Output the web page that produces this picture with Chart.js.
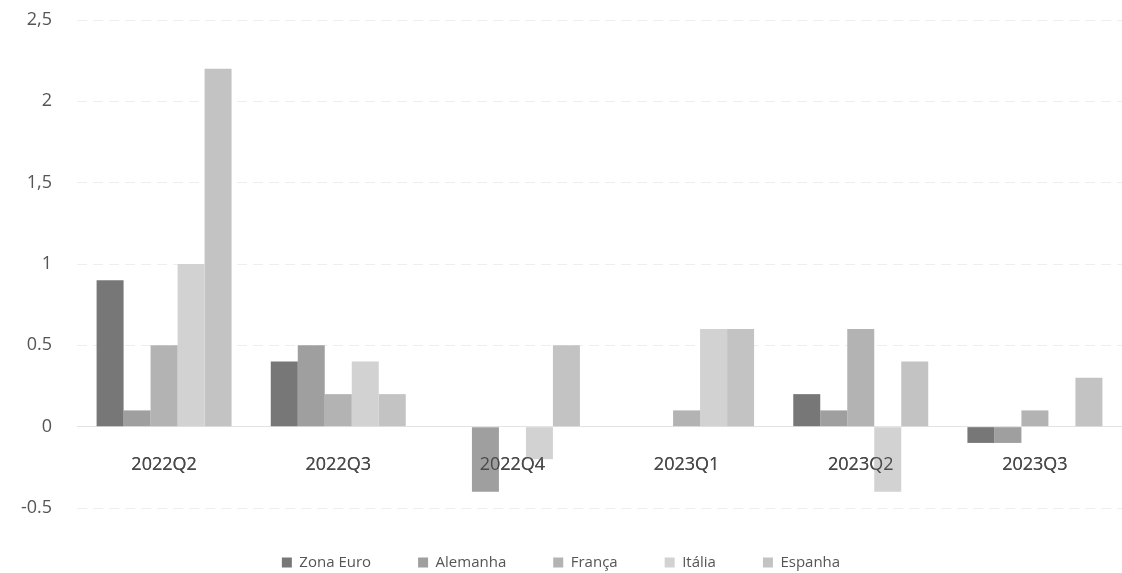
<!DOCTYPE html>
<html>
<head>
<meta charset="utf-8">
<script src="https://cdn.jsdelivr.net/npm/chart.js@4/dist/chart.umd.min.js"></script>
<style>
  html, body { margin: 0; padding: 0; background: #fff; }
  #wrap { width: 1122px; height: 573px; }
</style>
</head>
<body>
<div id="wrap"><canvas id="gdpChart"></canvas></div>
<script>
// Quarters on the x axis
const quarters = ['2022Q2', '2022Q3', '2022Q4', '2023Q1', '2023Q2', '2023Q3'];

// Quarterly growth per country (%)
const zonaEuro = [0.9, 0.4, 0, 0, 0.2, -0.1];
const alemanha = [0.1, 0.5, -0.4, 0, 0.1, -0.1];
const franca = [0.5, 0.2, 0, 0.1, 0.6, 0.1];
const italia = [1.0, 0.4, -0.2, 0.6, -0.4, 0];
const espanha = [2.2, 0.2, 0.5, 0.6, 0.4, 0.3];

// Y tick labels as printed in the original (mixed separators)
const tickValues = [-0.5, 0, 0.5, 1, 1.5, 2, 2.5];
const tickLabels = ['-0.5', '0', '0.5', '1', '1,5', '2', '2,5'];

const seriesNames = ['Zona Euro', 'Alemanha', 'França', 'Itália', 'Espanha'];
const seriesColors = ['#777777', '#9f9f9f', '#b3b3b3', '#d2d2d2', '#c3c3c3'];
const seriesData = [zonaEuro, alemanha, franca, italia, espanha];

const font = "'Open Sans', 'Noto Sans', sans-serif";

// quarter labels sit on top of the bars, as in the original
const labelsOnTop = {
    id: 'labelsOnTop',
    afterDatasetsDraw(chart) {
        chart.scales.x.drawLabels(chart.chartArea);
    }
};

const chartData = {
    labels: quarters,
    datasets: seriesNames.map((name, i) => ({
        label: name,
        data: seriesData[i],
        backgroundColor: seriesColors[i],
        borderWidth: 0,
        categoryPercentage: 0.775,
        barPercentage: 1.0
    }))
};

const chartConfig = {
    type: 'bar',
    data: chartData,
    plugins: [labelsOnTop],
    options: {
        responsive: true,
        maintainAspectRatio: false,
        animation: false,
        layout: { padding: { top: 20, right: 0, left: 0, bottom: -7 } },
        plugins: {
            tooltip: { enabled: false },
            legend: {
                position: 'bottom',
                labels: {
                    boxWidth: 10,
                    boxHeight: 10,
                    padding: 47,
                    color: '#555',
                    font: { size: 15, family: font }
                }
            }
        },
        scales: {
            x: {
                position: { y: 0 },
                grid: { display: false, drawTicks: false },
                border: { display: true, color: '#e3e3e3', width: 1 },
                ticks: {
                    padding: 27,
                    maxRotation: 0,
                    color: '#4a4a4a',
                    font: { size: 18, family: font }
                }
            },
            y: {
                min: -0.5,
                max: 2.5,
                afterFit: (scale) => { scale.width = 77; },
                afterBuildTicks: (scale) => {
                    scale.ticks = tickValues.map(v => ({ value: v }));
                },
                grid: {
                    color: (ctx) => ctx.tick && ctx.tick.value === 0 ? 'rgba(0,0,0,0)' : '#eeeeee',
                    drawTicks: true,
                    tickLength: 25,
                    tickColor: 'rgba(0,0,0,0)'
                },
                border: { display: false, dash: [10, 6] },
                ticks: {
                    padding: 0,
                    color: '#555',
                    font: { size: 18, family: font },
                    callback: (value) => {
                        const idx = tickValues.indexOf(value);
                        return idx >= 0 ? tickLabels[idx] : '';
                    }
                }
            }
        }
    }
};

new Chart(document.getElementById('gdpChart'), chartConfig);
</script>
</body>
</html>
